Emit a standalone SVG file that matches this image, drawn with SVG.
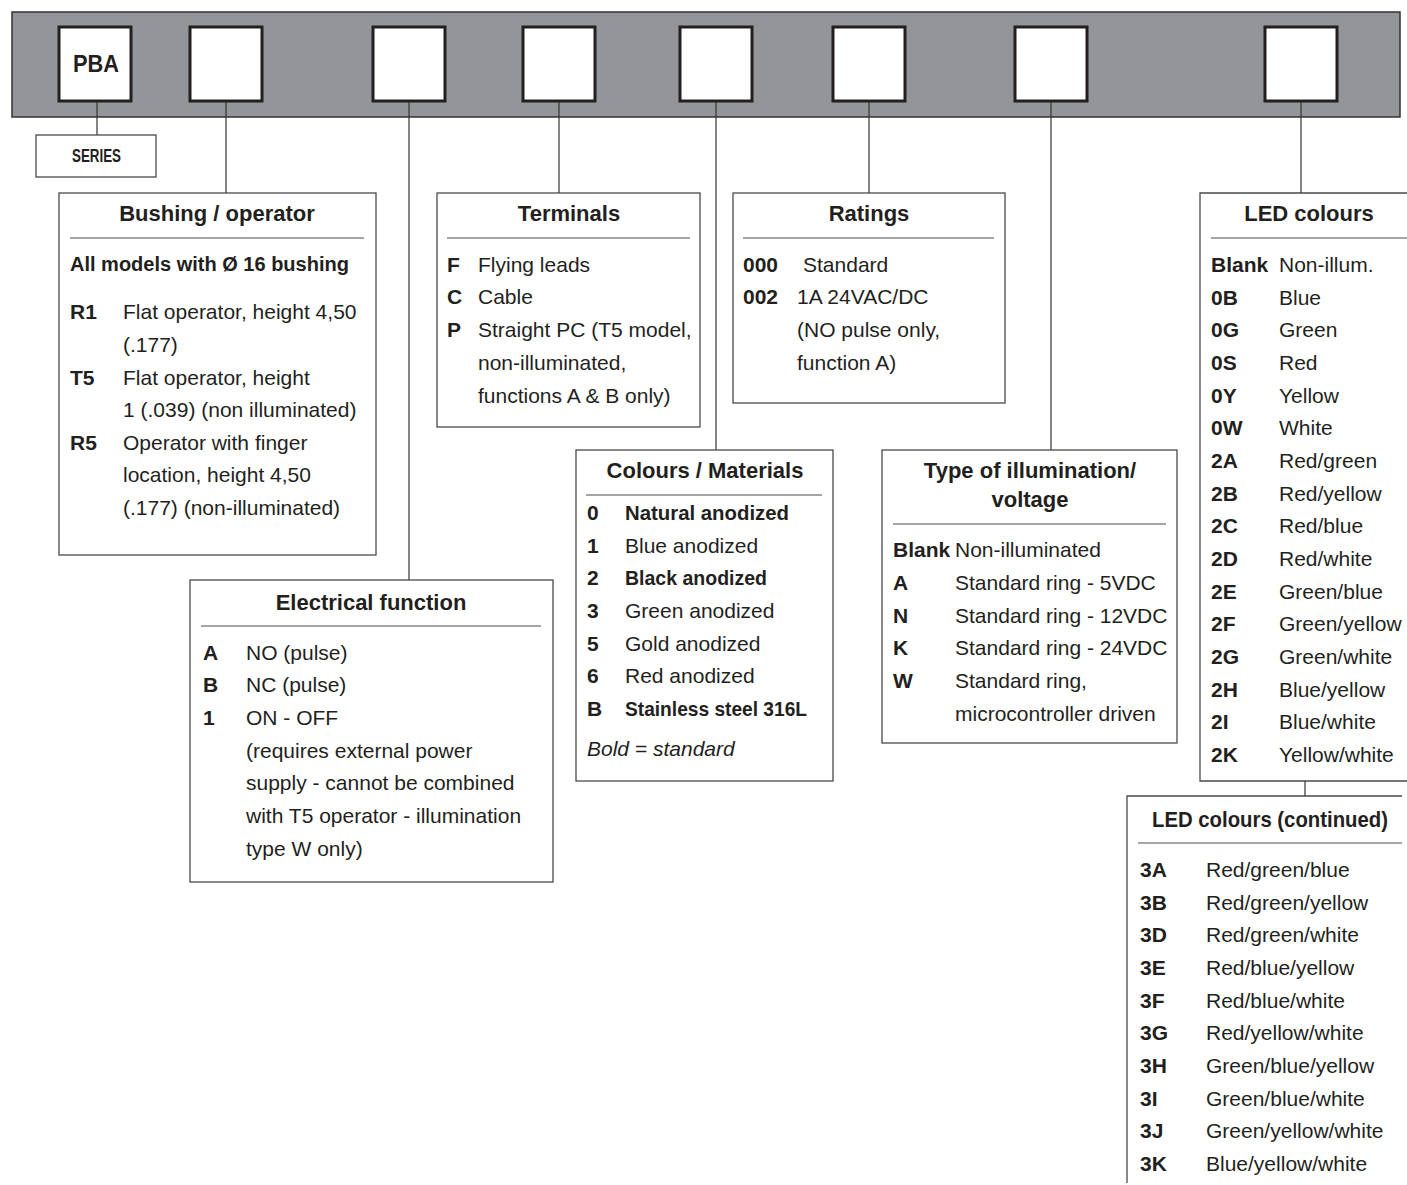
<svg xmlns="http://www.w3.org/2000/svg" width="1407" height="1185" viewBox="0 0 1407 1185">
<style>
text{font-family:"Liberation Sans",Arial,sans-serif;fill:#231f20}
.t{font-size:22px;font-weight:bold;text-anchor:middle}
.c{font-size:21px;font-weight:bold}
.d{font-size:21px}
.b{font-size:21px;font-weight:bold}
.box{fill:#fff;stroke:#4a4a4a;stroke-width:1.3}
.sep{stroke:#4a4a4a;stroke-width:1}
.slot{fill:#fff;stroke:#231f20;stroke-width:3}
.con{stroke:#333;stroke-width:1.2;fill:none}
</style>
<rect x="12" y="12" width="1388" height="105" fill="#939598" stroke="#333" stroke-width="1.5"/>
<g id="connectors">
<line class="con" x1="97" y1="101" x2="97" y2="135"/>
<line class="con" x1="226" y1="101" x2="226" y2="193"/>
<line class="con" x1="409" y1="101" x2="409" y2="580"/>
<line class="con" x1="559" y1="101" x2="559" y2="193"/>
<line class="con" x1="716" y1="101" x2="716" y2="450"/>
<line class="con" x1="869" y1="101" x2="869" y2="193"/>
<line class="con" x1="1051" y1="101" x2="1051" y2="450"/>
<line class="con" x1="1301" y1="101" x2="1301" y2="193"/>
<line class="con" x1="1305" y1="781" x2="1305" y2="796"/>
</g>
<g id="slot-pba"><rect class="slot" x="59" y="27" width="72" height="74"/><text x="96" y="72" style="font-size:23px;font-weight:bold;text-anchor:middle" textLength="46" lengthAdjust="spacingAndGlyphs">PBA</text></g>
<g id="slot-2"><rect class="slot" x="190" y="27" width="72" height="74"/></g>
<g id="slot-3"><rect class="slot" x="373" y="27" width="72" height="74"/></g>
<g id="slot-4"><rect class="slot" x="523" y="27" width="72" height="74"/></g>
<g id="slot-5"><rect class="slot" x="680" y="27" width="72" height="74"/></g>
<g id="slot-6"><rect class="slot" x="833" y="27" width="72" height="74"/></g>
<g id="slot-7"><rect class="slot" x="1015" y="27" width="72" height="74"/></g>
<g id="slot-8"><rect class="slot" x="1265" y="27" width="72" height="74"/></g>

<g id="series"><rect class="box" x="36" y="135" width="120" height="42"/><text x="72" y="162" style="font-size:18px;font-weight:bold" textLength="49" lengthAdjust="spacingAndGlyphs">SERIES</text></g>

<g id="bushing">
<rect class="box" x="59" y="193" width="317" height="362"/>
<text class="t" x="217" y="221">Bushing / operator</text>
<line class="sep" x1="70" y1="238" x2="364" y2="238"/>
<text x="70" y="271" style="font-size:20px;font-weight:bold">All models with Ø 16 bushing</text>
<text class="c" x="70" y="319">R1</text><text class="d" x="123" y="319">Flat operator, height 4,50</text>
<text class="d" x="123" y="352">(.177)</text>
<text class="c" x="70" y="385">T5</text><text class="d" x="123" y="385">Flat operator, height</text>
<text class="d" x="123" y="417">1 (.039) (non illuminated)</text>
<text class="c" x="70" y="450">R5</text><text class="d" x="123" y="450">Operator with  finger</text>
<text class="d" x="123" y="482">location, height 4,50</text>
<text class="d" x="123" y="515">(.177) (non-illuminated)</text>
</g>

<g id="electrical">
<rect class="box" x="190" y="580" width="363" height="302"/>
<text class="t" x="371" y="610">Electrical function</text>
<line class="sep" x1="201" y1="626" x2="541" y2="626"/>
<text class="c" x="203" y="660">A</text><text class="d" x="246" y="660">NO (pulse)</text>
<text class="c" x="203" y="692">B</text><text class="d" x="246" y="692">NC (pulse)</text>
<text class="c" x="203" y="725">1</text><text class="d" x="246" y="725">ON - OFF</text>
<text class="d" x="246" y="758">(requires external power</text>
<text class="d" x="246" y="790">supply - cannot be combined</text>
<text class="d" x="246" y="823">with T5 operator - illumination</text>
<text class="d" x="246" y="856">type W only)</text>
</g>

<g id="terminals">
<rect class="box" x="437" y="193" width="263" height="234"/>
<text class="t" x="569" y="221">Terminals</text>
<line class="sep" x1="447" y1="238" x2="690" y2="238"/>
<text class="c" x="447" y="272">F</text><text class="d" x="478" y="272">Flying leads</text>
<text class="c" x="447" y="304">C</text><text class="d" x="478" y="304">Cable</text>
<text class="c" x="447" y="337">P</text><text class="d" x="478" y="337">Straight PC (T5 model,</text>
<text class="d" x="478" y="370">non-illuminated,</text>
<text class="d" x="478" y="403">functions A &amp; B only)</text>
</g>

<g id="ratings">
<rect class="box" x="733" y="193" width="272" height="210"/>
<text class="t" x="869" y="221">Ratings</text>
<line class="sep" x1="743" y1="238" x2="994" y2="238"/>
<text class="c" x="743" y="272">000</text><text class="d" x="803" y="272">Standard</text>
<text class="c" x="743" y="304">002</text><text class="d" x="797" y="304">1A 24VAC/DC</text>
<text class="d" x="797" y="337">(NO pulse only,</text>
<text class="d" x="797" y="370">function A)</text>
</g>

<g id="colours">
<rect class="box" x="576" y="450" width="257" height="331"/>
<text class="t" x="705" y="478">Colours / Materials</text>
<line class="sep" x1="586" y1="495" x2="822" y2="495"/>
<text class="c" x="587" y="520">0</text><text class="b" x="625" y="520" textLength="164" lengthAdjust="spacingAndGlyphs">Natural anodized</text>
<text class="c" x="587" y="553">1</text><text class="d" x="625" y="553">Blue anodized</text>
<text class="c" x="587" y="585">2</text><text class="b" x="625" y="585" textLength="142" lengthAdjust="spacingAndGlyphs">Black anodized</text>
<text class="c" x="587" y="618">3</text><text class="d" x="625" y="618">Green anodized</text>
<text class="c" x="587" y="651">5</text><text class="d" x="625" y="651">Gold anodized</text>
<text class="c" x="587" y="683">6</text><text class="d" x="625" y="683">Red anodized</text>
<text class="c" x="587" y="716">B</text><text class="b" x="625" y="716" textLength="182" lengthAdjust="spacingAndGlyphs">Stainless steel 316L</text>
<text class="d" x="587" y="756" font-style="italic">Bold = standard</text>
</g>

<g id="illumination">
<rect class="box" x="882" y="450" width="295" height="293"/>
<text class="t" x="1030" y="478">Type of illumination/</text>
<text class="t" x="1030" y="507">voltage</text>
<line class="sep" x1="893" y1="524" x2="1166" y2="524"/>
<text class="c" x="893" y="557">Blank</text><text class="d" x="955" y="557">Non-illuminated</text>
<text class="c" x="893" y="590">A</text><text class="d" x="955" y="590">Standard ring - 5VDC</text>
<text class="c" x="893" y="623">N</text><text class="d" x="955" y="623">Standard ring - 12VDC</text>
<text class="c" x="893" y="655">K</text><text class="d" x="955" y="655">Standard ring - 24VDC</text>
<text class="c" x="893" y="688">W</text><text class="d" x="955" y="688">Standard ring,</text>
<text class="d" x="955" y="721">microcontroller driven</text>
</g>

<g id="led">
<path class="box" d="M1408,193 H1200 V781 H1408"/>
<text class="t" x="1309" y="221">LED colours</text>
<line class="sep" x1="1211" y1="238" x2="1407" y2="238"/>
<text class="c" x="1211" y="272">Blank</text><text class="d" x="1279" y="272">Non-illum.</text>
<text class="c" x="1211" y="305">0B</text><text class="d" x="1279" y="305">Blue</text>
<text class="c" x="1211" y="337">0G</text><text class="d" x="1279" y="337">Green</text>
<text class="c" x="1211" y="370">0S</text><text class="d" x="1279" y="370">Red</text>
<text class="c" x="1211" y="403">0Y</text><text class="d" x="1279" y="403">Yellow</text>
<text class="c" x="1211" y="435">0W</text><text class="d" x="1279" y="435">White</text>
<text class="c" x="1211" y="468">2A</text><text class="d" x="1279" y="468">Red/green</text>
<text class="c" x="1211" y="501">2B</text><text class="d" x="1279" y="501">Red/yellow</text>
<text class="c" x="1211" y="533">2C</text><text class="d" x="1279" y="533">Red/blue</text>
<text class="c" x="1211" y="566">2D</text><text class="d" x="1279" y="566">Red/white</text>
<text class="c" x="1211" y="599">2E</text><text class="d" x="1279" y="599">Green/blue</text>
<text class="c" x="1211" y="631">2F</text><text class="d" x="1279" y="631">Green/yellow</text>
<text class="c" x="1211" y="664">2G</text><text class="d" x="1279" y="664">Green/white</text>
<text class="c" x="1211" y="697">2H</text><text class="d" x="1279" y="697">Blue/yellow</text>
<text class="c" x="1211" y="729">2I</text><text class="d" x="1279" y="729">Blue/white</text>
<text class="c" x="1211" y="762">2K</text><text class="d" x="1279" y="762">Yellow/white</text>
</g>

<g id="led-continued">
<path class="box" d="M1402,796 H1127 V1183" fill="none"/>
<text x="1152" y="827" style="font-size:22px;font-weight:bold" textLength="236" lengthAdjust="spacingAndGlyphs">LED colours (continued)</text>
<line class="sep" x1="1138" y1="843" x2="1402" y2="843"/>
<text class="c" x="1140" y="877">3A</text><text class="d" x="1206" y="877">Red/green/blue</text>
<text class="c" x="1140" y="910">3B</text><text class="d" x="1206" y="910">Red/green/yellow</text>
<text class="c" x="1140" y="942">3D</text><text class="d" x="1206" y="942">Red/green/white</text>
<text class="c" x="1140" y="975">3E</text><text class="d" x="1206" y="975">Red/blue/yellow</text>
<text class="c" x="1140" y="1008">3F</text><text class="d" x="1206" y="1008">Red/blue/white</text>
<text class="c" x="1140" y="1040">3G</text><text class="d" x="1206" y="1040">Red/yellow/white</text>
<text class="c" x="1140" y="1073">3H</text><text class="d" x="1206" y="1073">Green/blue/yellow</text>
<text class="c" x="1140" y="1106">3I</text><text class="d" x="1206" y="1106">Green/blue/white</text>
<text class="c" x="1140" y="1138">3J</text><text class="d" x="1206" y="1138">Green/yellow/white</text>
<text class="c" x="1140" y="1171">3K</text><text class="d" x="1206" y="1171">Blue/yellow/white</text>
</g>
</svg>
